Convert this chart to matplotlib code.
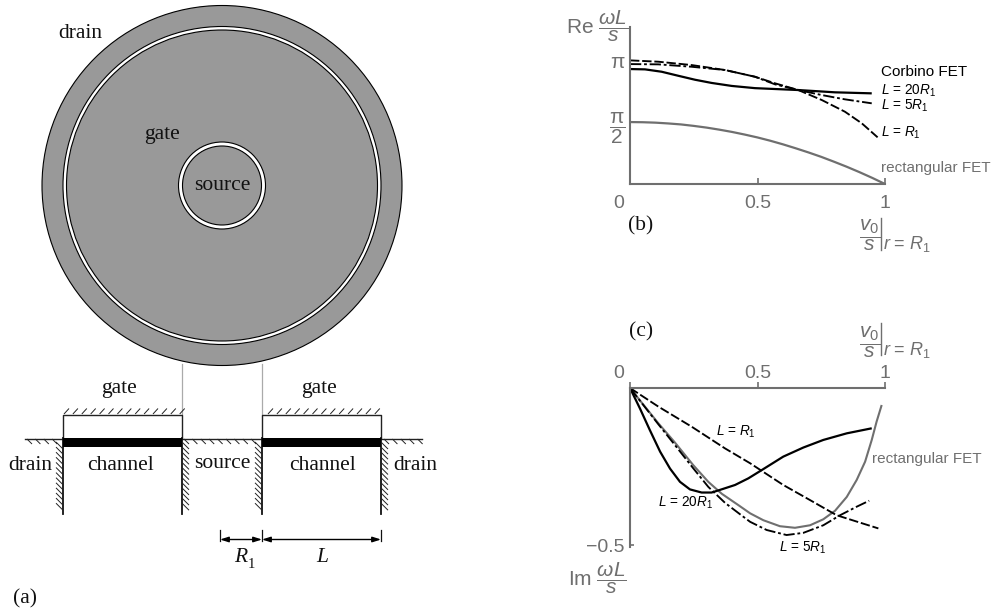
import matplotlib
matplotlib.use("Agg")
import matplotlib.pyplot as plt
from matplotlib.collections import LineCollection
from matplotlib.patches import Circle, Rectangle
from matplotlib.transforms import ScaledTranslation

plt.rcParams.update({
    "font.family": "Liberation Sans",
    "mathtext.fontset": "custom",
    "mathtext.rm": "Liberation Sans",
    "mathtext.it": "Liberation Sans:italic",
    "mathtext.bf": "Liberation Sans:bold",
})

# panel (b): Re(omega L / s)
re_rect_x = [0, .05, .1, .15, .2, .25, .3, .35, .4, .45, .5, .55, .6, .65, .7, .75, .8, .85, .9, .95, 1.0]
re_rect_y = [1.57, 1.566, 1.555, 1.535, 1.51, 1.473, 1.43, 1.378, 1.32, 1.253, 1.18, 1.097, 1.005, .905, .80,
             .688, .565, .437, .30, .155, 0]
re_l20_x = [0, .059, .124, .189, .255, .32, .399, .49, .66, .804, .948]
re_l20_y = [2.914, 2.906, 2.846, 2.744, 2.643, 2.562, 2.486, 2.430, 2.382, 2.324, 2.298]
re_l5_x = [0, .111, .242, .373, .49, .569, .66, .752, .843, .948]
re_l5_y = [3.04, 3.033, 2.972, 2.889, 2.719, 2.526, 2.382, 2.255, 2.146, 2.045]
re_l1_x = [0, .111, .242, .373, .49, .569, .66, .752, .843, .909, .971]
re_l1_y = [3.134, 3.1, 3.015, 2.889, 2.719, 2.552, 2.382, 2.129, 1.832, 1.538, 1.183]

# panel (c): Im(omega L / s)
im_rect_x = [0, .111, .176, .248, .307, .36, .425, .471, .523, .588, .647, .706, .758, .804, .85, .889, .922,
             .948, .967, .987]
im_rect_y = [0, -.112, -.173, -.245, -.298, -.336, -.372, -.398, -.42, -.439, -.444, -.436, -.417, -.39, -.346,
             -.292, -.234, -.165, -.107, -.054]
im_l20_x = [0, .039, .078, .118, .157, .196, .235, .281, .32, .359, .412, .464, .516, .601, .68, .758, .85, .948]
im_l20_y = [0, -.065, -.134, -.202, -.256, -.298, -.322, -.332, -.332, -.322, -.308, -.287, -.261, -.218,
            -.189, -.165, -.144, -.128]
im_l5_x = [0, .111, .176, .248, .307, .373, .438, .471, .536, .614, .68, .758, .824, .889, .938]
im_l5_y = [0, -.115, -.181, -.255, -.314, -.365, -.405, -.425, -.451, -.467, -.46, -.436, -.404, -.377, -.358]
im_l1_x = [0, .111, .242, .373, .471, .601, .706, .81, .974]
im_l1_y = [0, -.059, -.123, -.192, -.239, -.308, -.356, -.404, -.446]

xtick_vals = [0, .5, 1]
xtick_text = ["0", "0.5", "1"]
GREY = "#6f6f6f"
DISC = "#999999"
W, H = 992, 612

fig = plt.figure(figsize=(W / 100, H / 100), dpi=100)
ov = fig.add_axes([0, 0, 1, 1], zorder=0)
ov.set_xlim(0, W)
ov.set_ylim(H, 0)
ov.axis("off")


def axes_px(x0, x1, ytop, ybot):
    a = fig.add_axes([x0 / W, 1 - ybot / H, (x1 - x0) / W, (ybot - ytop) / H], zorder=2)
    a.patch.set_alpha(0)
    return a


# ---- panel (a) ----
cx, cy = 222, 185.5
for r, fc, lw in [(180, DISC, .8), (159, "white", .8), (155.5, DISC, .8), (43.5, "white", .8), (39.5, DISC, .8)]:
    ov.add_patch(Circle((cx, cy), r, fc=fc, ec="black", lw=lw))

SERIF = dict(family="Liberation Serif", fontsize=15.5, color="#111111", ha="center", va="center")
for s, x, y in [("drain", 80, 34), ("gate", 162, 135), ("source", 222, 186),
                ("gate", 119.5, 389), ("gate", 318.5, 388),
                ("drain", 30, 465), ("channel", 121, 465), ("source", 222, 464),
                ("channel", 322, 465), ("drain", 415, 465),
                ("(a)", 25, 599), ("(b)", 641, 226), ("(c)", 641, 332)]:
    ov.text(x, y, s, **SERIF)
ov.text(241, 558, "R", **{**SERIF, "style": "italic"})
ov.text(251, 564, "1", **{**SERIF, "fontsize": 10.5})
ov.text(322, 558, "L", **{**SERIF, "style": "italic"})

# connectors
ov.plot([182, 182], [364, 414], color="#aaaaaa", lw=.9)
ov.plot([262, 262], [364, 414], color="#aaaaaa", lw=.9)

# gates and channels
for a, b in [(63, 182), (262, 381)]:
    ov.plot([a, a, b, b], [438, 414.5, 414.5, 438], color="#222222", lw=1.0)
    ov.add_patch(Rectangle((a, 438), b - a, 9, fc="black", ec="none", zorder=3))

# ground and walls
for a, b in [(25, 63), (182, 262), (381, 422)]:
    ov.plot([a, b], [439, 439], color="#222222", lw=1.0)
for x in [63, 182, 262, 381]:
    ov.plot([x, x], [438, 514], color="#111111", lw=1.3)

segs = []
# gate hatches
for a, b in [(64, 181), (268, 376)]:
    x = a
    while x < b:
        segs.append([(x, 414), (x + 5, 408.5)])
        x += 8.9
# ground hatches
for a, b in [(27, 55), (184, 256), (384, 418)]:
    x = a
    while x < b:
        segs.append([(x, 439), (x + 5, 444)])
        x += 8.4
# wall hatches
for xw, d in [(63, -1), (182, 1), (262, -1), (381, 1)]:
    y = 449
    while y < 513:
        if d > 0:
            segs.append([(xw, y - 7), (xw + 7, y)])
        else:
            segs.append([(xw - 7, y - 7), (xw, y)])
        y += 5.1
ov.add_collection(LineCollection(segs, colors="#222222", linewidths=.7))

# dimensions
for x in [220, 262, 381]:
    ov.plot([x, x], [530, 541], color="#111111", lw=.9)
for a, b in [(220, 262), (262, 381)]:
    ov.annotate("", xy=(b, 539.5), xytext=(a, 539.5),
                arrowprops=dict(arrowstyle="<|-|>,head_length=.5,head_width=.16", color="black",
                                lw=1.0, shrinkA=0, shrinkB=0))


# ---- shared chart styling ----
def style(a, xspine):
    for s in a.spines.values():
        s.set_visible(False)
    for s in ("left", xspine):
        a.spines[s].set_visible(True)
        a.spines[s].set_color(GREY)
        a.spines[s].set_linewidth(1.5)
    a.set_xlim(0, 1)
    a.set_xticks(xtick_vals, xtick_text)
    a.tick_params(colors=GREY, labelsize=14, width=1.2, labelcolor=GREY)


def curves(a, data):
    for x, y, c, ls, lw in data:
        a.plot(x, y, color=c, ls=ls, lw=lw, clip_on=False, solid_capstyle="butt", solid_joinstyle="round")


DASH = (0, (5, 1.5))
DDOT = (0, (6, 1.5, 1.5, 1.5))

# ---- panel (b) ----
axb = axes_px(630, 885, 27, 184)
style(axb, "bottom")
axb.set_ylim(0, 3.98)
axb.set_yticks([3.1416, 1.5708], [r"$\mathrm{\pi}$", r"$\dfrac{\mathrm{\pi}}{2}$"])
axb.tick_params(axis="y", length=0, labelsize=15, pad=3)
axb.tick_params(axis="x", direction="in", length=4, pad=8)
axb.get_xticklabels()[0].set_transform(
    axb.get_xticklabels()[0].get_transform() + ScaledTranslation(-11 / 100, 0, fig.dpi_scale_trans))
curves(axb, [(re_rect_x, re_rect_y, GREY, "-", 1.6),
             (re_l20_x, re_l20_y, "black", "-", 1.6),
             (re_l5_x, re_l5_y, "black", DDOT, 1.35),
             (re_l1_x, re_l1_y, "black", DASH, 1.35)])

# ---- panel (c) ----
axc = axes_px(630, 885, 388, 547)
style(axc, "top")
axc.set_ylim(-0.505, 0)
axc.set_yticks([-0.5], ["\u22120.5"])
axc.tick_params(axis="y", direction="in", length=3, pad=4)
axc.xaxis.tick_top()
axc.tick_params(axis="x", direction="out", length=4, pad=0)
axc.get_xticklabels()[0].set_transform(
    axc.get_xticklabels()[0].get_transform() + ScaledTranslation(-11 / 100, 0, fig.dpi_scale_trans))
curves(axc, [(im_rect_x, im_rect_y, GREY, "-", 1.5),
             (im_l20_x, im_l20_y, "black", "-", 1.6),
             (im_l5_x, im_l5_y, "black", DDOT, 1.35),
             (im_l1_x, im_l1_y, "black", DASH, 1.35)])

# ---- chart annotations ----
for s, x, y, c, fs in [("Corbino FET", 881, 72, "black", 11),
                       ("$L$ = 20$R_1$", 881, 91, "black", 9.8),
                       ("$L$ = 5$R_1$", 881, 105.5, "black", 9.8),
                       ("$L$ = $R_1$", 881, 133, "black", 9.8),
                       ("rectangular FET", 881, 168, GREY, 11),
                       ("$L$ = $R_1$", 716, 432, "black", 9.8),
                       ("$L$ = 20$R_1$", 658, 503, "black", 9.8),
                       ("$L$ = 5$R_1$", 779, 548, "black", 9.8),
                       ("rectangular FET", 872, 459, GREY, 11)]:
    ov.text(x, y, s, color=c, fontsize=fs, va="center", ha="left")

AX = dict(color=GREY, fontsize=15, va="center", ha="left")
ov.text(566, 26, r"Re $\dfrac{\omega L}{s}$", **AX)
ov.text(568, 578, r"Im $\dfrac{\omega L}{s}$", **AX)
for ybar, ytop, ybot, yr in [(235, 218, 250, 244), (342, 323, 355, 350)]:
    ov.text(870, ybar, r"$\dfrac{v_0}{s}$", color=GREY, fontsize=15, ha="center", va="center")
    ov.plot([881, 881], [ytop, ybot], color=GREY, lw=1.0)
    ov.text(883, yr, "$r$ = $R_1$", color=GREY, fontsize=13, ha="left", va="center")

fig.savefig("out.png", dpi=100)
